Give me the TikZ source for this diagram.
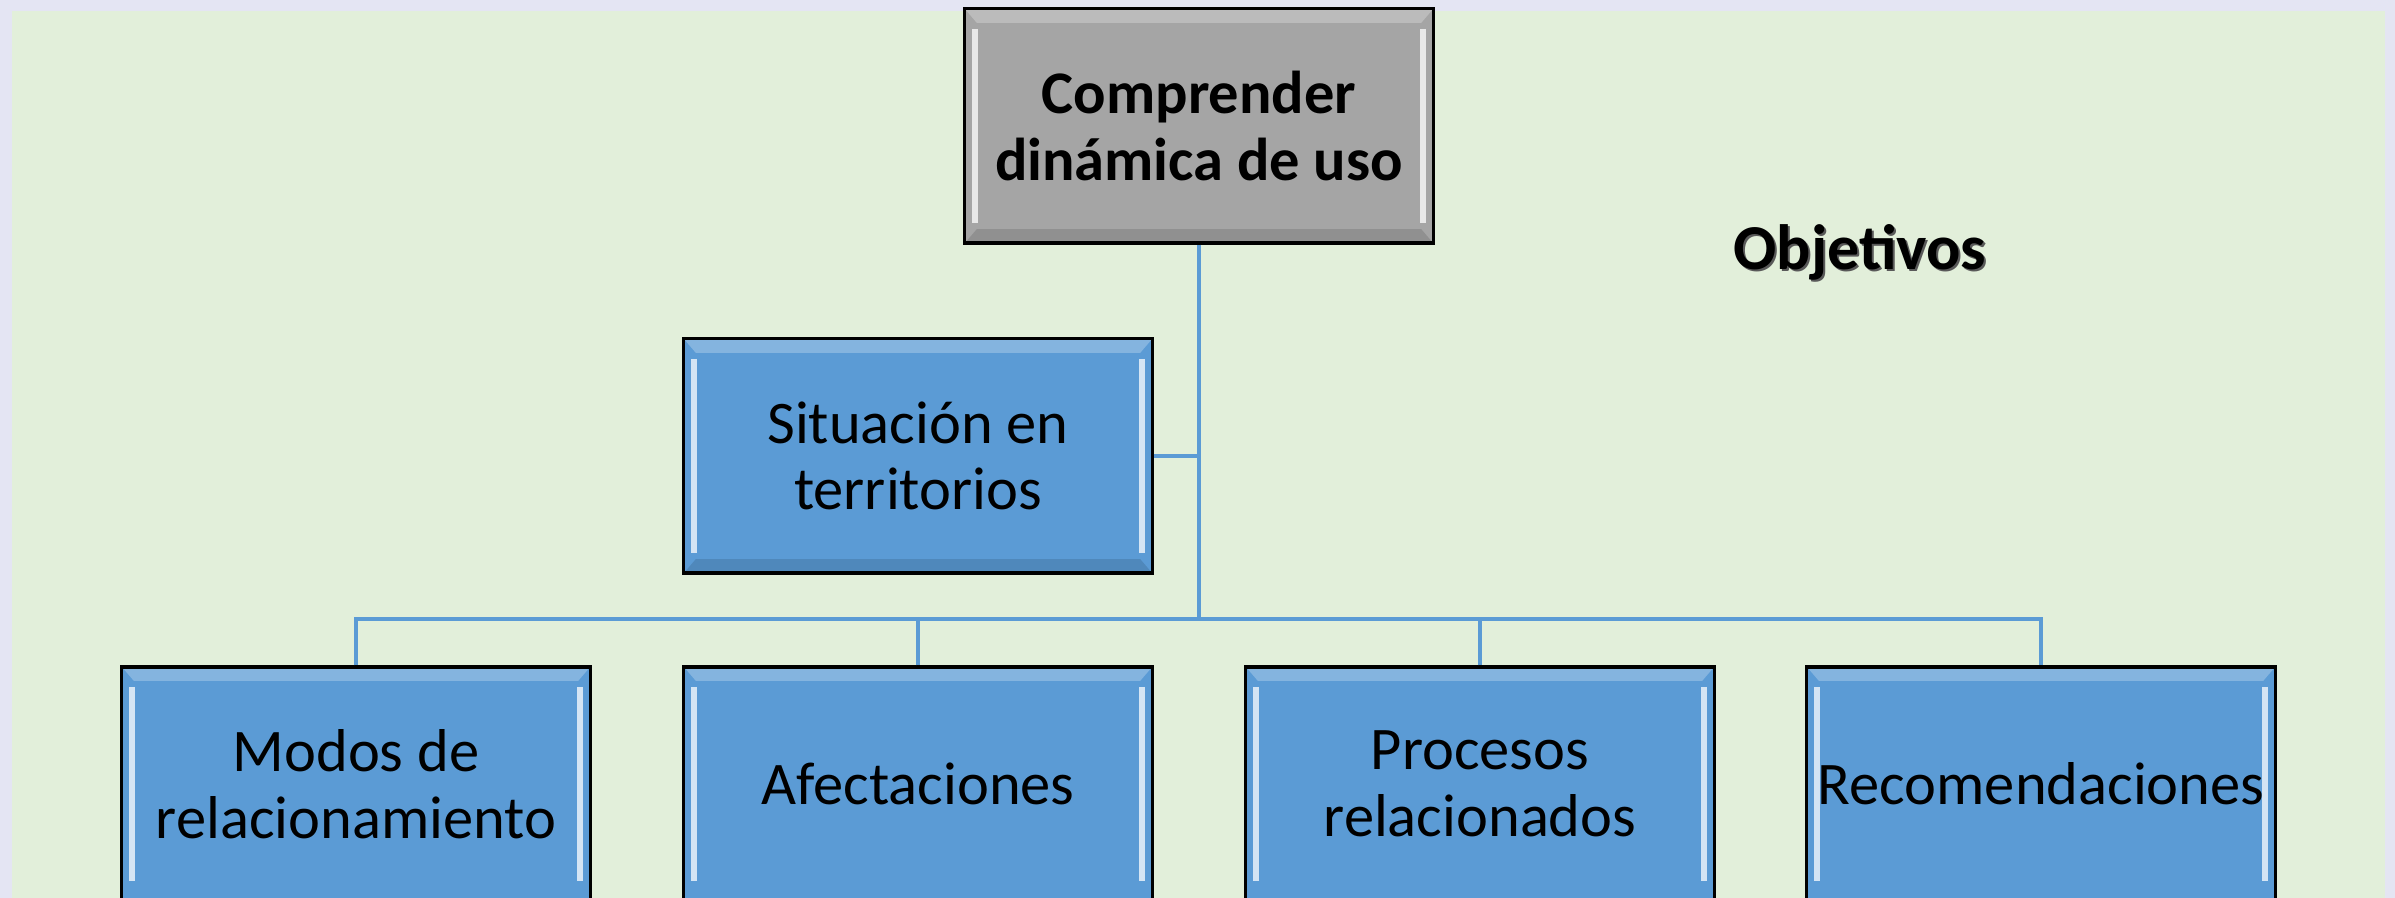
\documentclass[tikz,border=0pt]{standalone}
\usepackage{fontspec}
\setmainfont{Carlito}
\usetikzlibrary{calc}

\definecolor{fond}{HTML}{E4E5F3}
\definecolor{vert}{HTML}{E2EFDA}
\definecolor{bleu}{HTML}{5B9BD5}
\definecolor{gris}{HTML}{A5A5A5}

% facettes du biseau
\newcommand{\facethaut}{%
  \fill[white,opacity=0.25] (path picture bounding box.north west) -- (path picture bounding box.north east)
    -- ([xshift=-0.12cm,yshift=-0.14cm]path picture bounding box.north east) -- ([xshift=0.12cm,yshift=-0.14cm]path picture bounding box.north west) -- cycle;
  \draw[white,opacity=0.75,line width=1.6pt] ([xshift=0.1cm,yshift=-0.2cm]path picture bounding box.north west) -- ([xshift=0.1cm,yshift=0.2cm]path picture bounding box.south west);
  \draw[white,opacity=0.75,line width=1.6pt] ([xshift=-0.1cm,yshift=-0.2cm]path picture bounding box.north east) -- ([xshift=-0.1cm,yshift=0.2cm]path picture bounding box.south east);}
\newcommand{\facetbas}{%
  \fill[black,opacity=0.12] (path picture bounding box.south west) -- (path picture bounding box.south east)
    -- ([xshift=-0.12cm,yshift=0.14cm]path picture bounding box.south east) -- ([xshift=0.12cm,yshift=0.14cm]path picture bounding box.south west) -- cycle;}

\tikzset{
  boite/.style={draw=black, line width=0.9pt, fill=bleu, minimum width=4.68cm, minimum height=2.34cm,
    inner sep=0pt, align=center, font=\fontsize{17.2}{19}\selectfont,
    path picture={\facethaut\facetbas}},
  tete/.style={boite, fill=gris, font=\fontsize{17.2}{19}\selectfont\bfseries},
  bas/.style={boite, path picture={\facethaut}},
  lien/.style={draw=bleu, line width=1pt}
}

\begin{document}
\begin{tikzpicture}[x=0.01cm,y=0.01cm]
  %FOND
  \useasboundingbox (0,0) rectangle (2395,898);
  \fill[fond] (0,0) rectangle (2395,898);
  \fill[vert] (12,0) rectangle (2385,887);

  %SOMMET
  \node[tete] (top) at (1199,772) {Comprender\\dinámica de uso};

  %TITRE
  \node[gray!70!black, font=\fontsize{18.2}{20}\selectfont\bfseries] (objombre) at (1862,644) {Objetivos};
  \node[font=\fontsize{18.2}{20}\selectfont\bfseries] (obj) at (1860,646) {Objetivos};

  %ASSISTANT
  \node[boite] (sit) at (918,442) {Situación en\\territorios};

  %NIVEAU 2 (coupé en bas)
  \node[bas] (modos) at (356,114) {Modos de\\relacionamiento};
  \node[bas] (afec) at (918,114) {Afectaciones};
  \node[bas] (proc) at (1480,114) {Procesos\\relacionados};
  \node[bas] (recom) at (2041,114) {Recomendaciones};

  %LIENS
  \coordinate (bus) at (1199,279);
  \draw[lien] (top.south) -- (bus);
  \draw[lien] (sit.east) -- (sit.east -| top.south);
  \draw[lien] (modos.north) |- (bus) -| (recom.north);
  \draw[lien] (afec.north) -- (afec.north |- bus);
  \draw[lien] (proc.north) -- (proc.north |- bus);
\end{tikzpicture}
\end{document}
